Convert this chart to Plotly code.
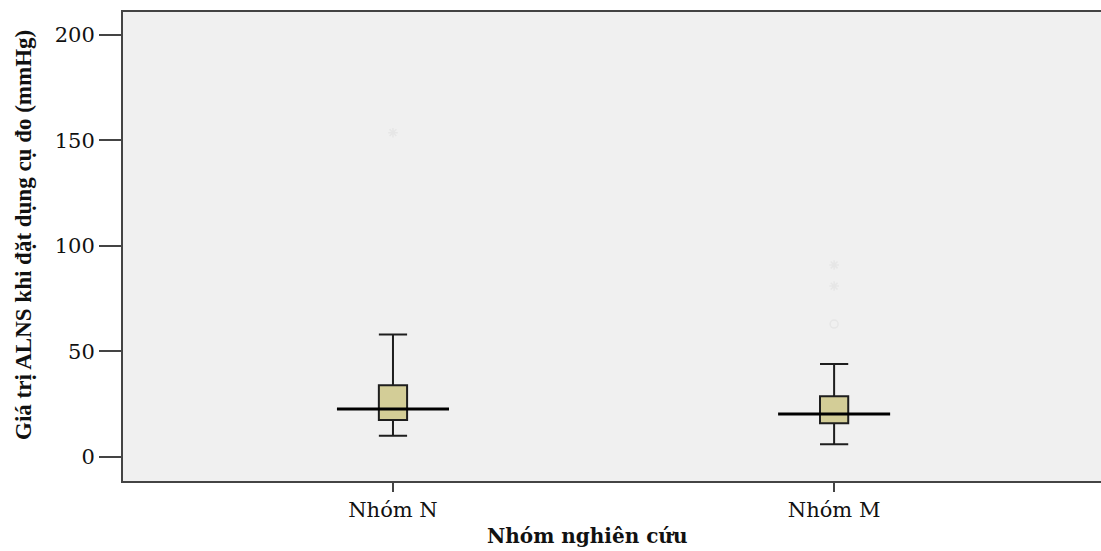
import plotly.graph_objects as go

# Group labels and five-number summaries (mmHg)
groups = ["Nhóm N", "Nhóm M"]
q1 = [17.5, 16.0]
median = [22.7, 20.3]
q3 = [34.0, 28.8]
lower_whisker = [10.0, 6.0]
upper_whisker = [58.0, 44.0]

# Outliers per group: (value, marker kind)
outliers_n = [153.7]
outliers_n_kind = ["extreme"]
outliers_m = [91.0, 81.0, 63.0]
outliers_m_kind = ["extreme", "extreme", "mild"]

y_ticks = [0, 50, 100, 150, 200]

BOX_FILL = "#d3cd97"
EDGE = "#1e1e1e"
BG = "#f0f0f0"
FAINT = "#e6e6e6"

fig = go.Figure()

box_half = 0.032
median_half = 0.127

for i, name in enumerate(groups):
    fig.add_trace(go.Box(
        x=[i], q1=[q1[i]], median=[median[i]], q3=[q3[i]],
        lowerfence=[lower_whisker[i]], upperfence=[upper_whisker[i]],
        width=box_half * 2, whiskerwidth=1,
        fillcolor=BOX_FILL, line=dict(color=EDGE, width=2),
        boxpoints=False, showlegend=False, hoverinfo="skip", name=name,
    ))
    # wide median bar across the box
    fig.add_trace(go.Scatter(
        x=[i - median_half, i + median_half], y=[median[i], median[i]],
        mode="lines", line=dict(color="#000000", width=3),
        showlegend=False, hoverinfo="skip",
    ))

for i, (vals, kinds) in enumerate([(outliers_n, outliers_n_kind), (outliers_m, outliers_m_kind)]):
    for v, k in zip(vals, kinds):
        fig.add_trace(go.Scatter(
            x=[i], y=[v], mode="markers",
            marker=dict(symbol="asterisk-open" if k == "extreme" else "circle-open",
                        size=8, color=FAINT, line=dict(color=FAINT, width=1.5)),
            showlegend=False, hoverinfo="skip",
        ))

fig.update_layout(
    width=1101, height=551,
    margin=dict(l=123, r=0, t=12, b=70),
    paper_bgcolor="white", plot_bgcolor=BG,
    xaxis=dict(
        range=[-0.612, 1.605], tickmode="array", tickvals=[0, 1], ticktext=groups,
        showgrid=False, zeroline=False, showline=True, mirror=True,
        linecolor="#444444", linewidth=2, ticks="outside", ticklen=9,
        tickcolor="#444444", tickwidth=1.5,
        tickfont=dict(family="DejaVu Serif", size=21, color="#111111"),
    ),
    yaxis=dict(
        range=[-11.4, 210.9], tickmode="array", tickvals=y_ticks,
        showgrid=False, zeroline=False, showline=True,
        linecolor="#444444", linewidth=2, ticks="outside", ticklen=22,
        tickcolor="#444444", tickwidth=1.5,
        tickfont=dict(family="DejaVu Serif", size=21, color="#111111"),
    ),
    annotations=[
        dict(text="Giá trị ALNS khi đặt dụng cụ đo (mmHg)", textangle=-90,
             xref="paper", yref="paper", x=0, y=0.5245, xanchor="center",
             yanchor="middle", xshift=-100, showarrow=False,
             font=dict(family="Liberation Serif", size=23, color="#111111", weight="bold")),
        dict(text="Nhóm nghiên cứu", xref="x", yref="paper", x=0.44, y=0,
             xanchor="center", yanchor="middle", yshift=-55, showarrow=False,
             font=dict(family="DejaVu Serif", size=20, color="#111111", weight="bold")),
    ],
)

fig.write_html("out.html")
